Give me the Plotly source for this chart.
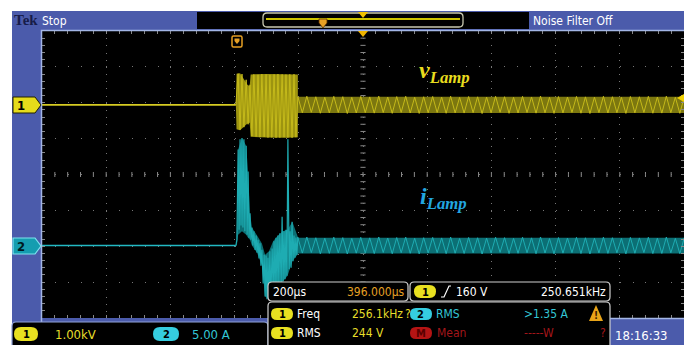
import numpy as np
import plotly.graph_objects as go

# ---------------------------------------------------------------- data
TIME_PER_DIV = 200.0   # µs/div
CH1_SCALE = 1000.0     # V/div  (1.00 kV)
CH2_SCALE = 5.0        # A/div  (5.00 A)
CH1_POS = 1.94         # div above centre
CH2_POS = -1.98        # div below centre

# pre-ignition: both channels idle
pre_t = [0, 604]
ch1_pre_v = [0, 0]
ch2_pre_i = [0, 0]

# ignition burst, lamp voltage (µs, V)
burst_t = [604, 611, 617, 623, 629, 636, 642, 648, 654, 660, 667, 673, 679, 685,
           692, 698, 704, 710, 716, 723, 729, 735, 741, 748, 754, 760, 766, 772,
           779, 785, 791, 797]
burst_v = [0, 870, -690, 860, -620, 700, -540, 560, -870, 850, -880, 840, -900, 860,
           -890, 850, -910, 840, -905, 850, -915, 860, -910, 850, -900, 845, -910, 850,
           -915, 855, -900, 230]
burst_env_t = [604, 606, 617, 629, 640, 647, 650, 700, 760, 797]
burst_env_hi = [0, 870, 880, 720, 560, 520, 850, 860, 855, 850]
burst_env_lo = [0, -680, -710, -610, -520, -500, -890, -910, -915, -900]

# ignition burst, lamp current (µs, A)
ch2_burst_t = [604, 607, 611, 614, 617, 620, 623, 626, 629, 632, 636, 639, 642, 645,
               648, 651, 654, 657, 660, 664, 667, 670, 673, 676, 679, 682, 685, 689,
               692, 695, 698, 701, 704, 707, 710, 713, 717, 720, 723, 726, 729, 732,
               735, 738, 741, 745, 748, 751, 754, 757, 760, 763, 766, 770, 773, 776,
               779, 782, 785, 788, 791, 794, 797]
ch2_burst_i = [0.0, 0.8, 13.4, 2.2, 14.8, 2.8, 15.0, 2.5, 14.8, 2.0, 13.9, 1.5, 10.3, 1.1,
               4.5, 0.8, 2.5, 0.0, 2.0, -0.6, 1.4, -1.0, 0.8, -1.8, 0.3, -2.8, -0.6, -5.3,
               -1.3, -7.1, -1.4, -7.5, -1.7, -7.5, -0.8, -7.0, -0.4, -6.3, 0.6, -6.4, 1.1, -5.9,
               1.4, -5.6, 1.7, -5.3, 4.0, -5.0, 2.0, -4.7, 2.2, -4.2, 14.8, -3.3, 2.0, -3.1,
               3.3, -2.2, 1.4, -1.7, 1.1, -1.3, 1.2]
ch2_env_t = [604, 607, 611, 623, 636, 642, 648, 654, 670, 685, 695, 707, 720, 735, 750, 765, 780, 797]
ch2_env_hi = [0, 0.8, 13.4, 15.0, 13.9, 10.3, 4.5, 2.5, 1.4, 0.3, -1.3, -0.8, 0.6, 1.4, 2.0, 2.2, 3.3, 1.2]
ch2_env_lo = [0, 0.0, 1.5, 2.0, 1.5, 1.1, 0.8, 0.0, -1.0, -2.8, -7.1, -7.5, -6.3, -5.6, -5.0, -4.2, -2.2, -1.2]

# steady operation, record sampled every 14 µs from 797 µs
tail_t0 = 797
tail_dt = 14
ch1_tail_v = [230, -218, 241, -206, 226, -232, 214, -221, 238, -209,
              229, -240, 211, -224, 236, -215, 222, -229, 244, -212,
              219, -235, 231, -208, 240, -226, 213, -238, 227, -219,
              235, -211, 218, -233, 242, -222, 209, -227, 233, -216,
              225, -241, 216, -220, 239, -207, 228, -234, 212, -225,
              237, -213, 221, -230, 245, -218, 210, -236, 232, -223,
              217, -209, 236, -231, 224, -240, 215, -214, 241, -226,
              228, -217, 211, -237, 234, -221, 226, -210, 239, -232,
              219, -228, 243, -215, 213, -235, 230]
ch2_tail_i = [1.12, -1.05, 1.18, -0.98, 1.08, -1.15, 1.02, -1.09, 1.16, -1.01,
              1.10, -1.17, 0.99, -1.06, 1.14, -1.03, 1.07, -1.12, 1.19, -0.97,
              1.05, -1.14, 1.11, -1.00, 1.17, -1.08, 1.01, -1.16, 1.09, -1.04,
              1.13, -0.99, 1.06, -1.13, 1.18, -1.07, 0.98, -1.10, 1.12, -1.02,
              1.08, -1.18, 1.03, -1.05, 1.15, -0.96, 1.10, -1.12, 1.00, -1.08,
              1.16, -1.01, 1.07, -1.14, 1.19, -1.04, 0.97, -1.15, 1.11, -1.06,
              1.04, -0.99, 1.14, -1.11, 1.08, -1.17, 1.02, -1.03, 1.17, -1.09,
              1.09, -1.02, 0.99, -1.16, 1.13, -1.07, 1.06, -0.98, 1.15, -1.12,
              1.03, -1.10, 1.18, -1.01, 1.00, -1.13, 1.11]
ch1_tail_band = [-225, 225]   # V, persistence band
ch2_tail_band = [-1.1, 1.1]   # A

# readouts
readout = {
    "ch1_scale": "1.00kV", "ch2_scale": "5.00 A",
    "timebase": "200µs", "delay": "396.000µs",
    "trig_level": "160 V", "trig_freq": "250.651kHz",
    "freq": "256.1kHz", "rms1": "244 V", "rms2": ">1.35 A", "mean": "-----W",
    "clock": "18:16:33",
}

# ---------------------------------------------------------------- geometry
W, H = 684, 345
SX0, SX1, SY0, SY1 = 42, 684, 31, 318
T_SPAN = 10 * TIME_PER_DIV

BLUE = "#4b5bab"
LIGHT = "#a3b6e6"
YEL = "#d6cb22"
YEL_LINE = "#c4b91a"
YEL_DIM = "#7c770f"
YEL_BURST = "#9d9410"
CYN = "#22b8c2"
CYN_LINE = "#1eacb2"
CYN_DIM = "#0c6f74"
TXT_Y = "#e6de2a"
TXT_C = "#33c6d6"
TXT_R = "#a3161a"
ORG = "#e6a024"
NARROW = "DejaVu Sans Condensed, Liberation Sans Narrow, Arial Narrow, sans-serif"


def fx(x):
    return x / W


def fy(y):
    return 1 - y / H


def pth(pts, close=True):
    s = "M " + " L ".join(f"{fx(x):.5f},{fy(y):.5f}" for x, y in pts)
    return s + (" Z" if close else "")


def rrect(x0, y0, x1, y1, r):
    P = lambda x, y: f"{fx(x):.5f},{fy(y):.5f}"
    return (f"M {P(x0 + r, y0)} L {P(x1 - r, y0)} Q {P(x1, y0)} {P(x1, y0 + r)} "
            f"L {P(x1, y1 - r)} Q {P(x1, y1)} {P(x1 - r, y1)} L {P(x0 + r, y1)} "
            f"Q {P(x0, y1)} {P(x0, y1 - r)} L {P(x0, y0 + r)} Q {P(x0, y0)} {P(x0 + r, y0)} Z")


shapes = []
annots = []


def rect(x0, y0, x1, y1, fill, line=None, lw=0, layer="above"):
    shapes.append(dict(type="rect", xref="paper", yref="paper", x0=fx(x0), x1=fx(x1),
                       y0=fy(y1), y1=fy(y0), fillcolor=fill,
                       line=dict(color=line or fill, width=lw), layer=layer))


def path(d, fill=None, line=None, lw=0, layer="above"):
    shapes.append(dict(type="path", xref="paper", yref="paper", path=d,
                       fillcolor=fill or "rgba(0,0,0,0)",
                       line=dict(color=line or "rgba(0,0,0,0)", width=lw), layer=layer))


def text(x, y, s, color, size=12, family=NARROW, anchor="left", bold=False):
    if bold:
        s = f"<b>{s}</b>"
    annots.append(dict(x=fx(x), y=fy(y), xref="paper", yref="paper", text=s,
                       showarrow=False, xanchor=anchor, yanchor="middle",
                       font=dict(color=color, size=size, family=family)))


def pill(x0, y0, x1, y1, fill, label, tcolor="#000000"):
    path(rrect(x0, y0, x1, y1, (y1 - y0) / 2), fill=fill)
    text((x0 + x1) / 2, (y0 + y1) / 2 + 0.5, label, tcolor, size=11, anchor="center", bold=True)


# ---------------------------------------------------------------- bezel
rect(12, 11, SX0, H, BLUE, layer="below")
rect(SX0, 11, W, SY0, BLUE, layer="below")
rect(SX0, SY1, W, H, BLUE, layer="below")
path(pth([(SX0 - 0.5, H), (SX0 - 0.5, SY0 - 0.5), (W, SY0 - 0.5)], close=False),
     line=LIGHT, lw=1.5)

# header
text(12, 20, "Tek", "#171c48", size=15, family="Liberation Serif", bold=True)
text(40, 21, "Stop", "#ffffff", size=12)
rect(197, 12, 529, 29, "#000000")
path(rrect(263, 13, 463, 27, 4), line="#c9c9b0", lw=1.3)
path(pth([(266, 19), (460, 19)], close=False), line="#cfc400", lw=2)
path(pth([(319, 19), (327, 19), (327, 23), (323, 28), (319, 23)]), fill=ORG, line="#5a3000", lw=0.8)
path(pth([(358, 12), (368, 12), (363, 18)]), fill="#f0c000")
text(531, 21, "Noise Filter Off", "#ffffff", size=12)

# screen markers
path(pth([(358, SY0), (368, SY0), (363, SY0 + 6)]), fill="#f0b400")
path(rrect(232, 36, 242, 47, 1.5), fill="#000000", line=ORG, lw=1.5)
path(pth([(234.5, 38.5), (239.5, 38.5), (239.5, 41), (237, 44), (234.5, 41)]), fill=ORG)
path(pth([(684, 94), (677, 98), (684, 102)]), fill="#f0d000")

# channel ground markers
path(pth([(13, 97), (35, 97), (41, 105), (35, 113), (13, 113)]), fill="#e6dc1a", line="#222200", lw=1)
text(21, 105.5, "1", "#000000", size=13, bold=True, anchor="center")
path(pth([(13, 238), (35, 238), (41, 246), (35, 254), (13, 254)]), fill="#159db0", line="#7fe4ee", lw=1.2)
text(21, 246.5, "2", "#001a20", size=13, bold=True, anchor="center")

# bottom-left scale box
path(rrect(12, 322, 268, 350, 4), fill="#000000", line="#8fa2d8", lw=1.2)
pill(14, 327, 38, 341, "#e8e020", "1")
text(53, 334, readout["ch1_scale"], TXT_Y, size=13)
pill(153, 327, 179, 341, "#35cde0", "2")
text(190, 334, readout["ch2_scale"], TXT_C, size=13)

# timebase / trigger boxes
path(rrect(268, 282, 408, 301, 4), fill="#000000", line="#d0d0d0", lw=1.2)
text(271, 292, readout["timebase"], "#ffffff", size=12)
text(406, 292, readout["delay"], ORG, size=12, anchor="right")
path(rrect(410, 282, 610, 301, 4), fill="#000000", line="#d0d0d0", lw=1.2)
pill(414, 285, 436, 298, "#e8e020", "1")
path(pth([(441, 297), (444, 297), (449, 286), (451, 286)], close=False), line="#ffffff", lw=1.2)
text(454, 292, readout["trig_level"], "#ffffff", size=12)
text(608, 292, readout["trig_freq"], "#ffffff", size=12, anchor="right")

# measurement box
path(rrect(268, 302, 610, 350, 4), fill="#000000", line="#d0d0d0", lw=1.2)
pill(271, 308, 293, 320, "#e8e020", "1")
text(295, 314, "Freq", "#ffffff", size=12)
text(350, 314, readout["freq"], TXT_Y, size=12)
text(403, 314, "?", TXT_Y, size=12)
pill(410, 308, 432, 320, "#35cde0", "2")
text(434, 314, "RMS", TXT_C, size=12)
text(522, 314, readout["rms2"], TXT_C, size=12)
path(pth([(596, 305), (603, 321), (589, 321)]), fill="#e8a418")
text(596, 315, "!", "#3a1a00", size=10, bold=True, anchor="center")
pill(271, 327, 293, 339, "#e8e020", "1")
text(295, 333, "RMS", "#ffffff", size=12)
text(350, 333, readout["rms1"], TXT_Y, size=12)
pill(410, 327, 432, 339, "#b51414", "M", tcolor="#5a0000")
text(435, 333, "Mean", TXT_R, size=12)
text(522, 333, readout["mean"], TXT_R, size=12)
text(598, 333, "?", TXT_R, size=12)

# clock
path(pth([(610, SY1 + 0.5), (W, SY1 + 0.5)], close=False), line=LIGHT, lw=1.5)
text(613, 335, readout["clock"], "#ffffff", size=13)

# centre graticule ticks (data coordinates)
cx = T_SPAN / 2
segs = []
for k in range(1, 50):
    t = k * T_SPAN / 50
    segs.append(f"M {t:.2f},-0.07 L {t:.2f},0.07")
for k in range(-19, 20):
    y = k * 0.2
    segs.append(f"M {cx - 8:.2f},{y:.2f} L {cx + 8:.2f},{y:.2f}")
shapes.append(dict(type="path", xref="x", yref="y", path=" ".join(segs),
                   line=dict(color="#8a8a8a", width=1), layer="below"))

# ---------------------------------------------------------------- traces
def ch1(v):
    return CH1_POS + np.asarray(v, float) / CH1_SCALE


def ch2(i):
    return CH2_POS + np.asarray(i, float) / CH2_SCALE


tail_t = tail_t0 + tail_dt * np.arange(len(ch1_tail_v))
band_x = [tail_t[0], tail_t[-1], tail_t[-1], tail_t[0]]

traces = [
    go.Scatter(x=band_x, y=ch2([ch2_tail_band[1]] * 2 + [ch2_tail_band[0]] * 2),
               fill="toself", fillcolor=CYN_DIM, line=dict(width=0), mode="lines"),
    go.Scatter(x=ch2_env_t + ch2_env_t[::-1], y=ch2(ch2_env_hi + ch2_env_lo[::-1]),
               fill="toself", fillcolor=CYN_DIM, line=dict(width=0), mode="lines"),
    go.Scatter(x=pre_t, y=ch2(ch2_pre_i), mode="lines", line=dict(color=CYN, width=1.6)),
    go.Scatter(x=ch2_burst_t, y=ch2(ch2_burst_i), mode="lines", line=dict(color=CYN_LINE, width=1.2)),
    go.Scatter(x=tail_t, y=ch2(ch2_tail_i), mode="lines", line=dict(color=CYN_LINE, width=1)),
    go.Scatter(x=band_x, y=ch1([ch1_tail_band[1]] * 2 + [ch1_tail_band[0]] * 2),
               fill="toself", fillcolor=YEL_DIM, line=dict(width=0), mode="lines"),
    go.Scatter(x=burst_env_t + burst_env_t[::-1], y=ch1(burst_env_hi + burst_env_lo[::-1]),
               fill="toself", fillcolor=YEL_BURST, line=dict(width=0), mode="lines"),
    go.Scatter(x=pre_t, y=ch1(ch1_pre_v), mode="lines", line=dict(color=YEL, width=1.8)),
    go.Scatter(x=burst_t, y=ch1(burst_v), mode="lines", line=dict(color=YEL_LINE, width=1)),
    go.Scatter(x=tail_t, y=ch1(ch1_tail_v), mode="lines", line=dict(color=YEL_LINE, width=1)),
]

fig = go.Figure(traces)
fig.update_traces(hoverinfo="skip")

fig.update_layout(
    width=W, height=H, margin=dict(l=0, r=0, t=0, b=0),
    paper_bgcolor="#ffffff", plot_bgcolor="#000000", showlegend=False,
    xaxis=dict(domain=[fx(SX0), fx(SX1)], range=[0, T_SPAN], dtick=TIME_PER_DIV, tick0=0,
               showgrid=True, gridcolor="#777777", gridwidth=1, griddash="1px,6.18px",
               zeroline=False, showticklabels=False, showline=False,
               ticks="inside", ticklen=3, tickcolor="#888888", mirror="ticks",
               minor=dict(dtick=TIME_PER_DIV / 5, ticks="inside", ticklen=3,
                          tickcolor="#888888", showgrid=False),
               fixedrange=True),
    yaxis=dict(domain=[fy(SY1), fy(SY0)], range=[-4, 4], dtick=1, tick0=0,
               showgrid=True, gridcolor="#777777", gridwidth=1, griddash="1px,11.84px",
               zeroline=False, showticklabels=False, showline=False,
               ticks="inside", ticklen=3, tickcolor="#888888", mirror="ticks",
               minor=dict(dtick=0.2, ticks="inside", ticklen=3,
                          tickcolor="#888888", showgrid=False),
               fixedrange=True),
    shapes=shapes,
    annotations=annots
    + [
        dict(x=fx(417), y=fy(72), xref="paper", yref="paper", showarrow=False,
             xanchor="left", yanchor="middle",
             text="<b><i>v</i></b><sub><b><i>Lamp</i></b></sub>",
             font=dict(family="Liberation Serif", size=24, color="#e8dc1e")),
        dict(x=fx(418), y=fy(198), xref="paper", yref="paper", showarrow=False,
             xanchor="left", yanchor="middle",
             text="<b><i>i</i></b><sub><b><i>Lamp</i></b></sub>",
             font=dict(family="Liberation Serif", size=24, color="#22a6e0")),
    ],
)

fig.write_html("out.html", config={"displayModeBar": False})
